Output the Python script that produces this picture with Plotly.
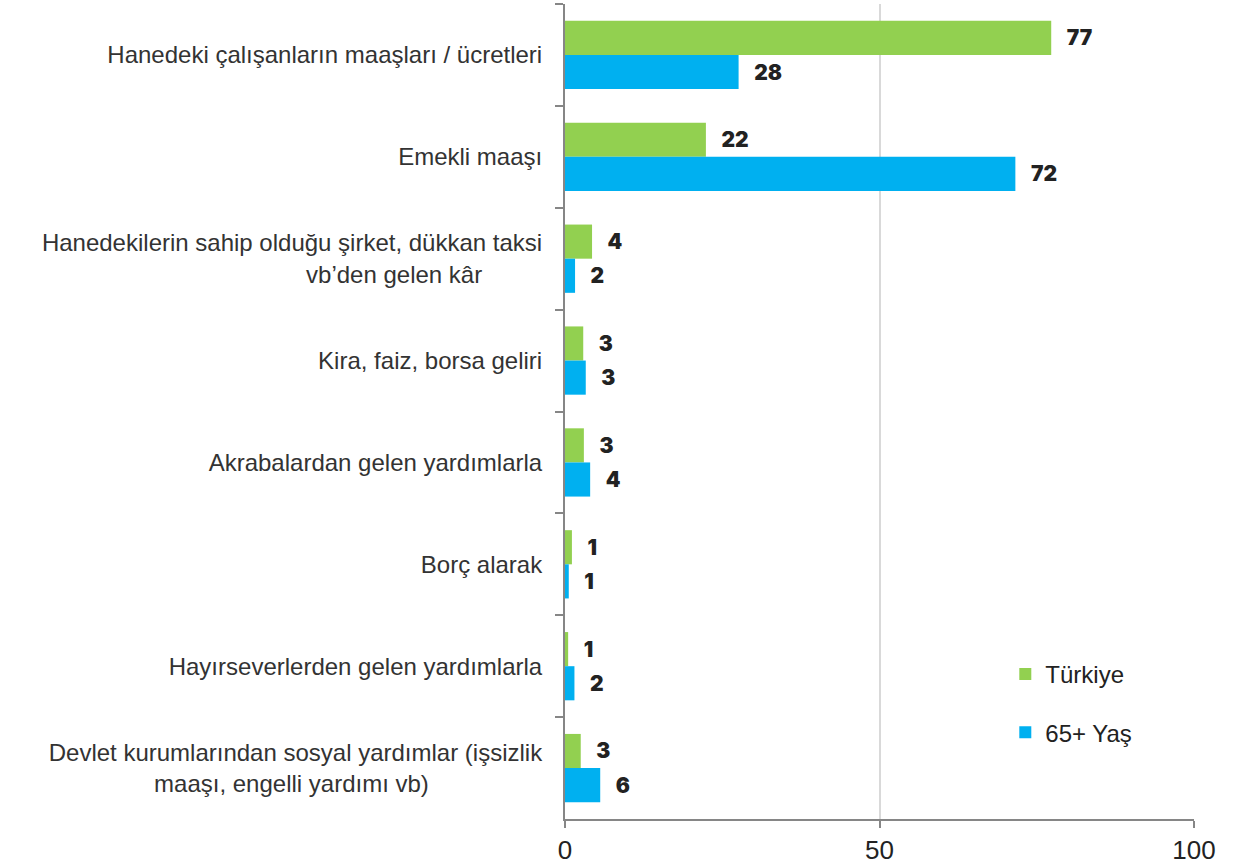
import plotly.graph_objects as go

# Gelir kaynakları (yüzde)
categories = [
    "Hanedeki çalışanların maaşları / ücretleri",
    "Emekli maaşı",
    "Hanedekilerin sahip olduğu şirket, dükkan taksi<br>vb’den gelen kâr",
    "Kira, faiz, borsa geliri",
    "Akrabalardan gelen yardımlarla",
    "Borç alarak",
    "Hayırseverlerden gelen yardımlarla",
    "Devlet kurumlarından sosyal yardımlar (işsizlik<br>maaşı, engelli yardımı vb)",
]
turkiye = [77.3, 22.4, 4.3, 2.9, 3.0, 1.1, 0.5, 2.5]
yas65 = [27.6, 71.6, 1.6, 3.3, 4.0, 0.6, 1.5, 5.6]

series = [("Türkiye", turkiye, "#92D050"), ("65+ Yaş", yas65, "#00B0F0")]

# tick labels are right aligned, so the short second lines get some trailing
# spaces to sit more like the centred labels of the original
line_pad = {2: 9, 7: 17}
labels = []
for i, c in enumerate(categories):
    if i in line_pad:
        c = c + "&nbsp;" * line_pad[i]
    labels.append(c)

fig = go.Figure()
for name, vals, color in series:
    fig.add_trace(go.Bar(
        y=labels, x=vals, name=name, orientation="h",
        marker=dict(color=color, line=dict(width=0)),
        texttemplate="   %{x:.0f}", textposition="outside", cliponaxis=False,
        textfont=dict(family="Inter", size=21, color="#222222", weight=900),
        legendgroup=name,
    ))

fig.update_layout(
    width=1233, height=868,
    margin=dict(l=565, r=39, t=4, b=49),
    plot_bgcolor="white", paper_bgcolor="white",
    barmode="group", bargap=0.33, bargroupgap=0,
    font=dict(family="Liberation Sans", color="#222222"),
    showlegend=True,
    legend=dict(x=0.7, y=0.205, xanchor="left", yanchor="top",
                traceorder="grouped", tracegroupgap=24,
                font=dict(family="Liberation Sans", size=24, color="#222222"),
                itemwidth=30, bgcolor="rgba(0,0,0,0)"),
)
fig.update_xaxes(
    range=[0, 100], tickvals=[0, 50, 100], automargin=False,
    showgrid=True, gridcolor="#d9d9d9", gridwidth=1.5,
    showline=True, linecolor="#868686", linewidth=2,
    ticks="outside", ticklen=7, tickcolor="#868686", tickwidth=2,
    tickfont=dict(size=26, color="#222222"), zeroline=False,
)
fig.update_yaxes(
    autorange="reversed", tickson="boundaries", automargin=False,
    showline=True, linecolor="#868686", linewidth=2,
    ticks="outside", ticklen=8, tickcolor="#868686", tickwidth=2,
    showgrid=False, ticklabelstandoff=16,
    tickfont=dict(family="Liberation Sans", size=24, color="#333333"),
)

fig.write_html("out.html", config={"displayModeBar": False},
               post_script="document.body.style.margin = '0';")
